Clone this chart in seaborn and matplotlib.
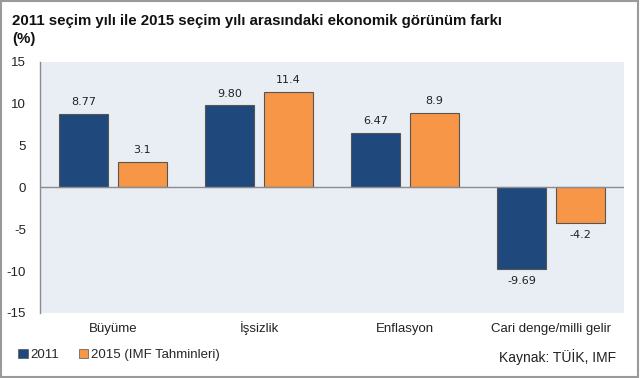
import matplotlib
matplotlib.use("Agg")
import matplotlib.pyplot as plt
import matplotlib.patches as mpatches
import pandas as pd
import seaborn as sns

categories = ["Büyüme", "İşsizlik", "Enflasyon", "Cari denge/milli gelir"]
vals_2011 = [8.77, 9.80, 6.47, -9.69]
vals_2015 = [3.1, 11.4, 8.9, -4.2]
series = ["2011", "2015 (IMF Tahminleri)"]
label_fmt = ["%.2f", "%.1f"]
colors = ["#1F497D", "#F79646"]

sns.set_theme(style="white")
plt.rcParams["font.family"] = ["Liberation Sans", "DejaVu Sans"]
plt.rcParams["axes.unicode_minus"] = False

df = pd.DataFrame({
    "kategori": categories * 2,
    "deger": vals_2011 + vals_2015,
    "seri": [series[0]] * 4 + [series[1]] * 4,
})

fig = plt.figure(figsize=(6.4, 3.78), dpi=100)
ax = fig.add_axes([0.0625, 0.172, 0.9125, 0.664])
ax.set_facecolor("#E9EDF4")

sns.barplot(data=df, x="kategori", y="deger", hue="seri", palette=colors, saturation=1,
            width=0.8, gap=0.16, edgecolor="#555555", linewidth=0.8,
            errorbar=None, legend=False, ax=ax, zorder=3)

for cont, fmt in zip(ax.containers, label_fmt):
    ax.bar_label(cont, fmt=fmt, padding=5, fontsize=8, color="#222222",
                 family=["DejaVu Sans"])

ax.axhline(0, color="#8C8C8C", lw=1, zorder=4)
ax.set_ylim(-15, 15)
ax.set_yticks(range(-15, 16, 5))
ax.set_xlim(-0.5, 3.5)
ax.set_xlabel("")
ax.set_ylabel("")
ax.tick_params(axis="both", length=0, labelsize=9.5, colors="#222222")
ax.tick_params(axis="y", pad=10)
ax.tick_params(axis="x", pad=14)
for lbl in ax.get_xticklabels():
    lbl.set_verticalalignment("baseline")
for s in ["top", "right", "bottom"]:
    ax.spines[s].set_visible(False)
ax.spines["left"].set_color("#8C8C8C")
ax.spines["left"].set_linewidth(1)

fig.text(0.019, 0.945, "2011 seçim yılı ile 2015 seçim yılı arasındaki ekonomik görünüm farkı",
         fontsize=10.8, fontweight="bold", va="center", ha="left", color="#111111")
fig.text(0.019, 0.897, "(%)", fontsize=10.8, fontweight="bold", va="center", ha="left",
         color="#111111")

handles = [mpatches.Patch(facecolor=c, edgecolor="#555555", lw=0.5) for c in colors]
fig.legend(handles, series, loc="center left", bbox_to_anchor=(0.01, 0.06), ncol=2,
           frameon=False, fontsize=9.5, handlelength=0.7, handleheight=0.7,
           handletextpad=0.2, columnspacing=1.5)
fig.text(0.962, 0.055, "Kaynak: TÜİK, IMF", fontsize=10, ha="right", va="center",
         color="#222222")

fig.patches.append(mpatches.Rectangle((0.002, 0.003), 0.995, 0.994, transform=fig.transFigure,
                                      fill=False, edgecolor="#9A9A9A", lw=1.5))

fig.savefig("out.png", dpi=100)
